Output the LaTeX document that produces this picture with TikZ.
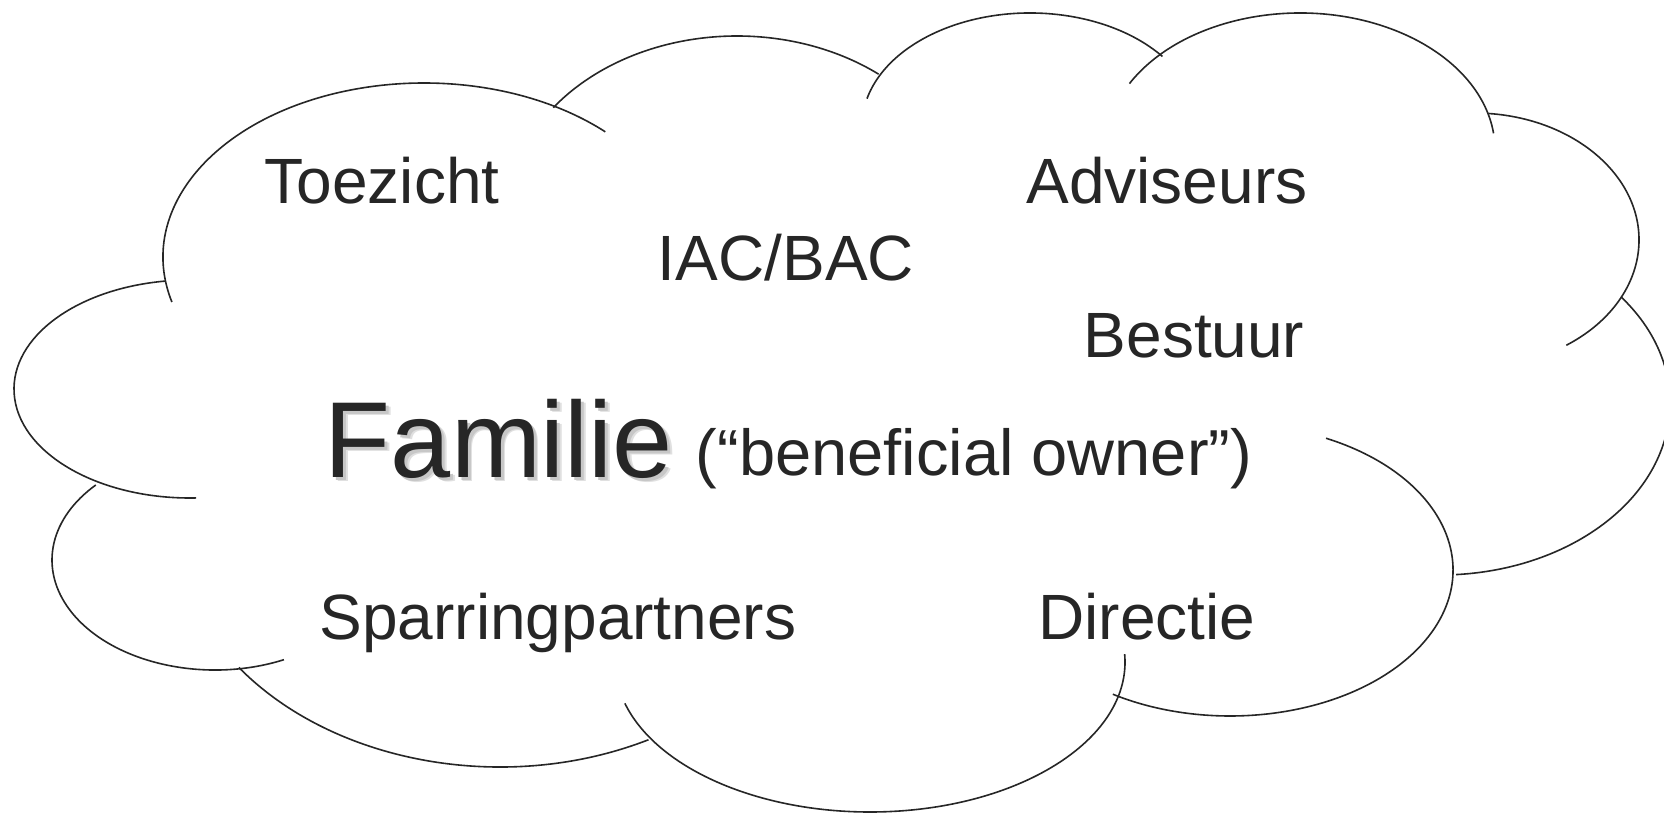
\documentclass[tikz,border=0pt]{standalone}
\usepackage{fontspec}
\setmainfont{Liberation Sans}
\definecolor{ink}{HTML}{262626}
\newcommand\cloudlobe[6]{\draw[cloudline, shift={(#1,#2)}] (#5:#3 and #4) arc[start angle=#5, end angle=#6, x radius=#3, y radius=#4];}
\newcommand\shadowed[1]{\makebox[0pt][l]{\kern4.5pt\raisebox{-4.5pt}{\color{black!12}#1}}\makebox[0pt][l]{\kern3pt\raisebox{-3pt}{\color{black!22}#1}}#1}
\begin{document}
\begin{tikzpicture}[x=1pt,y=-1pt,
  cloudline/.style={line width=1.6pt, draw=ink},
  lbl/.style={anchor=base, text=ink, inner sep=0pt, font=\fontsize{64}{76}\selectfont},
  big/.style={anchor=base, text=ink, inner sep=0pt, font=\fontsize{108}{128}\selectfont}]
\useasboundingbox[fill=white] (0,0) rectangle (1664,813);
% cloud lobes (centre x, centre y, x radius, y radius, start, end)
\cloudlobe{424}{257}{261}{174}{165}{314}
\cloudlobe{737}{216}{230}{180}{217}{308}
\cloudlobe{1030}{126}{168}{113}{194}{322}
\cloudlobe{1300}{150}{195}{137}{209}{353}
\cloudlobe{1474}{240}{165}{127}{275}{416}
\cloudlobe{1440}{403}{230}{172}{-38}{86}
\cloudlobe{1230}{570}{223}{146}{-64.5}{121.7}
\cloudlobe{870}{662}{255}{150}{-3}{164}
\cloudlobe{500}{517}{327}{250}{63}{143}
\cloudlobe{215}{560}{163}{110}{65}{223}
\cloudlobe{190}{389}{176}{109}{88}{262}
% labels
\node[lbl] (toezicht) at (382,204) {Toezicht};
\node[lbl] (iacbac) at (786,280) {IAC/BAC};
\node[lbl] (adviseurs) at (1167,204) {Adviseurs};
\node[lbl] (bestuur) at (1194,357) {Bestuur};
\node[lbl, font=\fontsize{65}{77}\selectfont] (owner) at (974,475) {(“beneficial owner”)};
\node[lbl] (spar) at (558,639) {Sparringpartners};
\node[lbl] (directie) at (1147,639) {Directie};
\node[big] (familie) at (499,477) {\shadowed{Familie}};
\end{tikzpicture}
\end{document}
